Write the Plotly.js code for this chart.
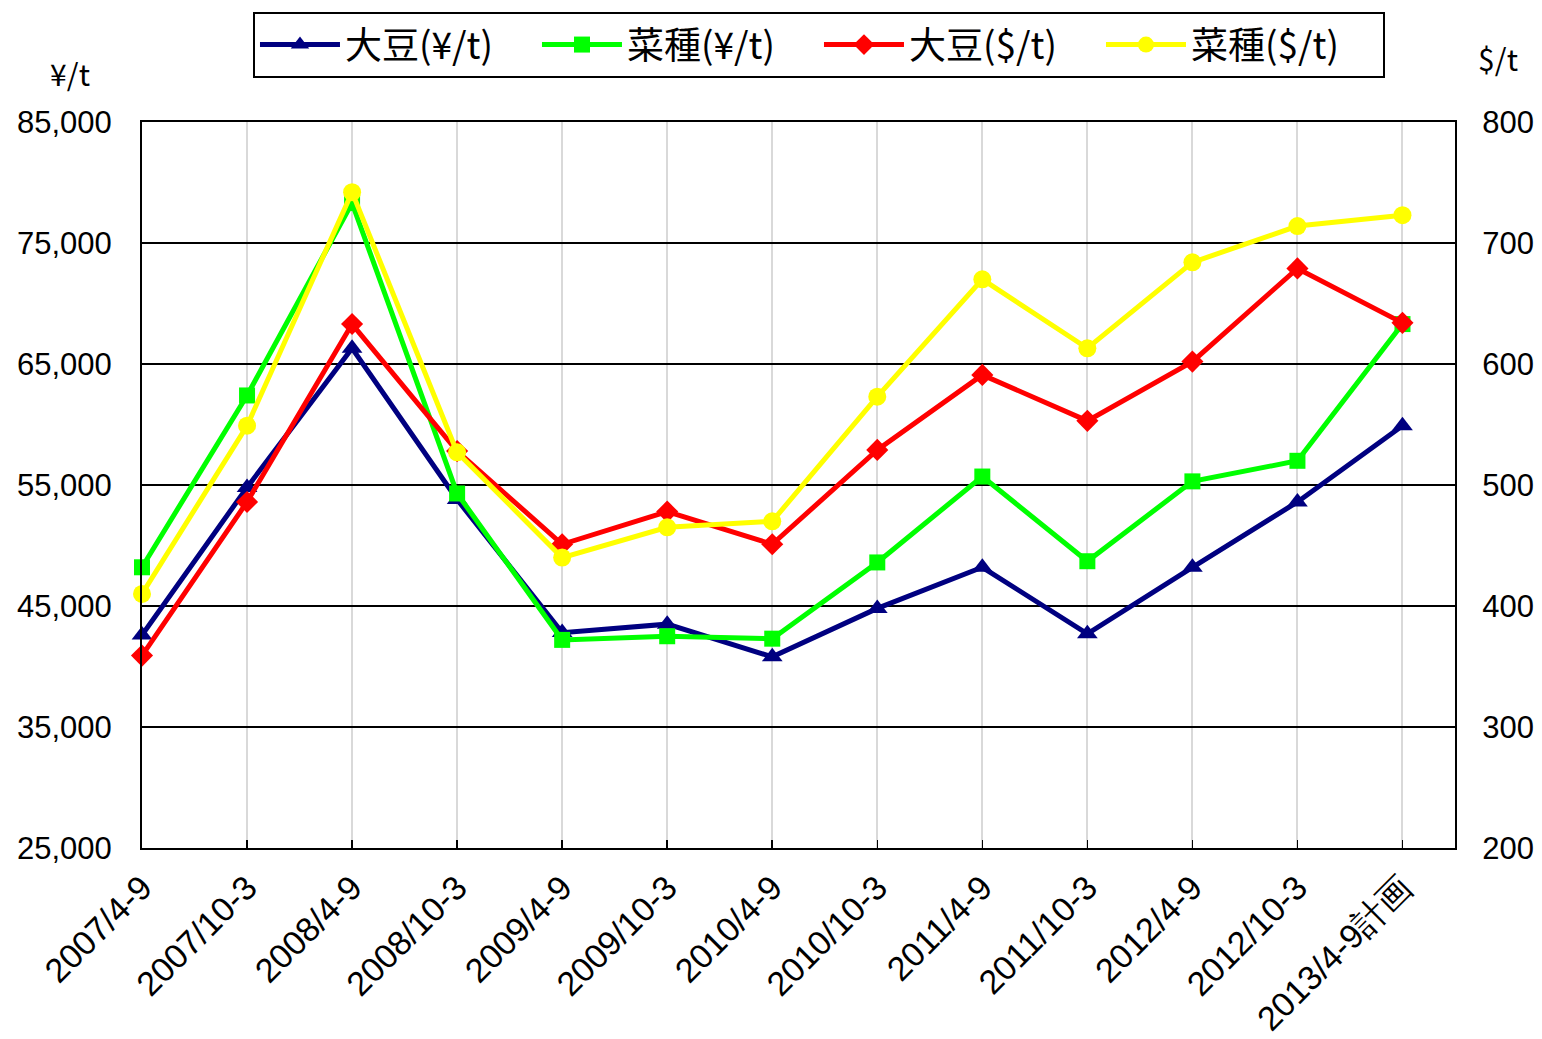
<!DOCTYPE html>
<html>
<head>
<meta charset="utf-8">
<script src="https://cdn.plot.ly/plotly-3.0.1.min.js"></script>
<style>
html,body{margin:0;padding:0;background:#fff;}
#chart{width:1542px;height:1039px;}
</style>
</head>
<body>
<div id="chart"></div>
<script>
// categories (periods)
const periods = ["2007/4-9","2007/10-3","2008/4-9","2008/10-3","2009/4-9","2009/10-3","2010/4-9","2010/10-3","2011/4-9","2011/10-3","2012/4-9","2012/10-3","2013/4-9計画"];
// series names
const seriesNames = ["大豆(¥/t)","菜種(¥/t)","大豆($/t)","菜種($/t)"];
// left axis (yen per tonne)
const soyYen  = [42600, 54800, 66300, 53800, 42800, 43500, 40800, 44800, 48200, 42700, 48200, 53600, 59900];
const rapeYen = [48200, 62400, 78300, 54300, 42200, 42500, 42300, 48600, 55700, 48700, 55300, 57000, 68300];
// right axis (dollar per tonne)
const soyUsd  = [359, 486, 633, 528, 451, 478, 451, 529, 591, 553, 602, 679, 634];
const rapeUsd = [410, 549, 742, 527, 440, 465, 470, 573, 670, 613, 684, 714, 723];
// axis tick values
const leftTicks  = [25000, 35000, 45000, 55000, 65000, 75000, 85000];
const rightTicks = [200, 300, 400, 500, 600, 700, 800];
const leftUnit = "¥/t";
const rightUnit = "$/t";

const xIdx = periods.map((_, i) => i);
const numFont = "Liberation Sans, Arial, sans-serif";
const cjkFont = "Noto Sans CJK JP, sans-serif";

const traces = [
  {name: seriesNames[0], x: xIdx, y: soyYen, yaxis: "y", type: "scatter", mode: "lines+markers",
   line: {color: "#000080", width: 5}, marker: {symbol: "triangle-up", size: 18, color: "#000080"}, cliponaxis: false},
  {name: seriesNames[1], x: xIdx, y: rapeYen, yaxis: "y", type: "scatter", mode: "lines+markers",
   line: {color: "#00ff00", width: 5}, marker: {symbol: "square", size: 16, color: "#00ff00"}, cliponaxis: false},
  {name: seriesNames[2], x: xIdx, y: soyUsd, yaxis: "y2", type: "scatter", mode: "lines+markers",
   line: {color: "#ff0000", width: 5}, marker: {symbol: "diamond", size: 17, color: "#ff0000"}, cliponaxis: false},
  {name: seriesNames[3], x: xIdx, y: rapeUsd, yaxis: "y2", type: "scatter", mode: "lines+markers",
   line: {color: "#ffff00", width: 5}, marker: {symbol: "circle", size: 18, color: "#ffff00"}, cliponaxis: false}
];

const layout = {
  width: 1542, height: 1039,
  margin: {l: 142, r: 87, t: 122, b: 191},
  paper_bgcolor: "#fff", plot_bgcolor: "#fff",
  showlegend: true,
  legend: {
    orientation: "h", x: 0.5156, xanchor: "center", y: 1.1515, yanchor: "top",
    bordercolor: "#000", borderwidth: 2, bgcolor: "#fff",
    font: {family: cjkFont, size: 37, color: "#000"},
    itemwidth: 80, traceorder: "normal",
    entrywidth: 187, entrywidthmode: "pixels"
  },
  xaxis: {
    range: [0, 12.5],
    tickmode: "array", tickvals: xIdx, ticktext: periods,
    tickangle: -45,
    ticks: "inside", ticklen: 8, tickcolor: "#000", tickwidth: 1.5,
    showgrid: true, gridcolor: "#d9d9d9", gridwidth: 2,
    showline: true, linecolor: "#000", linewidth: 2, mirror: true,
    zeroline: false,
    tickfont: {family: numFont, size: 34, color: "#000"},
    ticklabelstandoff: 4
  },
  yaxis: {
    range: [25000, 85000],
    tickmode: "array", tickvals: leftTicks,
    tickformat: ",d",
    showgrid: true, gridcolor: "#000", gridwidth: 2,
    showline: true, linecolor: "#000", linewidth: 2, mirror: true,
    zeroline: false, ticks: "",
    tickfont: {family: numFont, size: 31, color: "#000"},
    ticklabelstandoff: 22
  },
  yaxis2: {
    range: [200, 800], overlaying: "y", side: "right",
    tickmode: "array", tickvals: rightTicks,
    showgrid: false, zeroline: false,
    showline: true, linecolor: "#000", linewidth: 2,
    ticks: "",
    tickfont: {family: numFont, size: 31, color: "#000"},
    ticklabelstandoff: 19
  },
  annotations: [
    {text: leftUnit, xref: "paper", yref: "paper", x: -0.0548, y: 1.0675, xanchor: "center", yanchor: "middle",
     showarrow: false, font: {family: cjkFont, size: 30, color: "#000"}},
    {text: rightUnit, xref: "paper", yref: "paper", x: 1.0328, y: 1.088, xanchor: "center", yanchor: "middle",
     showarrow: false, font: {family: cjkFont, size: 30, color: "#000"}}
  ]
};

Plotly.newPlot("chart", traces, layout, {displayModeBar: false, staticPlot: true});
</script>
</body>
</html>
